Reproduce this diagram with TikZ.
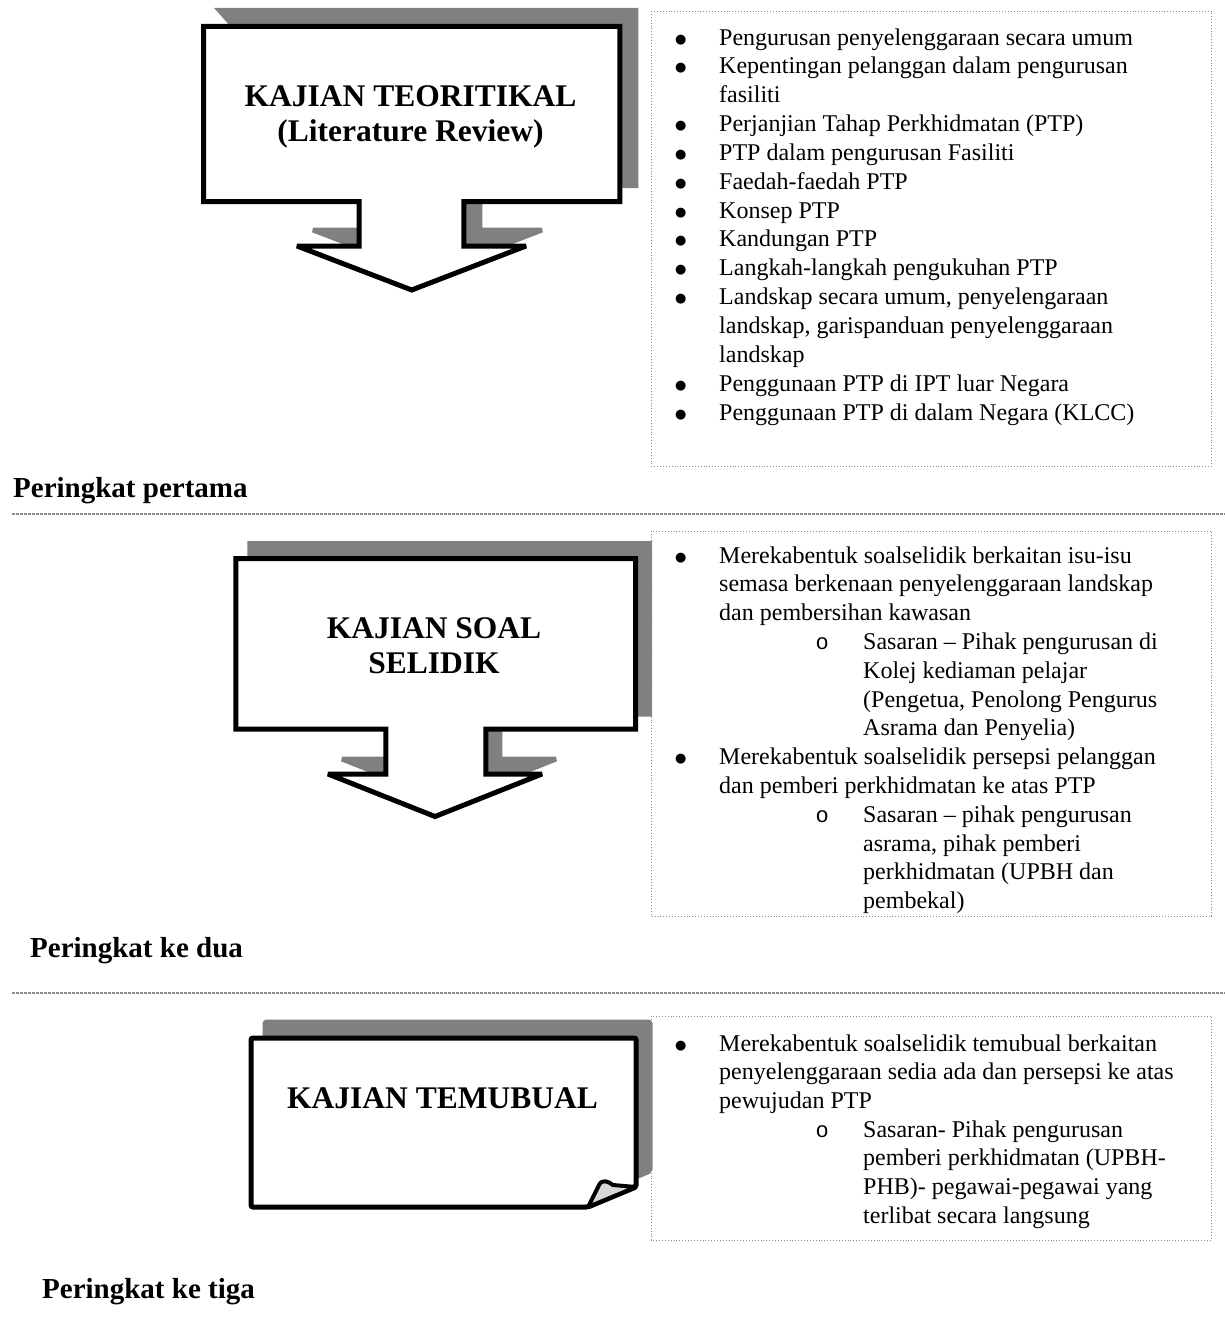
\documentclass[tikz,border=0pt]{standalone}
\usepackage{fontspec}
\setmainfont{Liberation Serif}
\newfontfamily\monofam{Liberation Mono}
\newfontfamily\dvfam{DejaVu Sans}
\definecolor{shadowgray}{RGB}{128,128,128}
\definecolor{framegray}{RGB}{140,140,140}
\definecolor{flapgray}{RGB}{215,215,215}
\newcommand\bulA{\makebox[43pt][l]{\hspace*{-1pt}\raisebox{2pt}{\dvfam\fontsize{13}{13}\selectfont ●}}}
\newcommand\subB{\hspace*{139.4pt}\makebox[47.6pt][l]{\monofam\fontsize{22}{22}\selectfont o}}
\newcommand\contA{\hspace*{43pt}}
\newcommand\contB{\hspace*{187pt}}
\def\calloutOne{(203.5,26.3) -- (619.8,26.3) -- (619.8,201.7) -- (463.8,201.7) -- (463.8,246) -- (526,246) -- (411.7,290) -- (297,246) -- (359,246) -- (359,201.7) -- cycle}
\def\calloutTwo{(235.8,558.7) -- (635.5,558.7) -- (635.5,729) -- (485.8,729) -- (485.8,774) -- (542,774) -- (435,816.5) -- (328,774) -- (385.8,774) -- (385.8,729) -- (235.8,729) -- cycle}
\def\noteThree{(251,1038) -- (636,1038) -- (636,1187) -- (588,1207) -- (251,1207) -- cycle}
\begin{document}
\begin{tikzpicture}[x=1pt,y=-1pt,
  callout/.style={draw=black, line width=5pt, fill=white, line join=miter, miter limit=4},
  shadowfill/.style={fill=shadowgray, draw=shadowgray, line width=5pt, line join=miter, miter limit=4},
  textframe/.style={draw=framegray, line width=0.9pt, dotted},
  sep/.style={draw=framegray, line width=1.3pt, dash pattern=on 2.5pt off 1.5pt},
  titletext/.style={font=\fontsize{31.5}{36}\selectfont\bfseries, anchor=base, inner sep=0},
  stage/.style={font=\fontsize{29}{34}\selectfont\bfseries, anchor=base west, inner sep=0},
  body/.style={anchor=base west, inner sep=0},
]
\useasboundingbox (0,0) rectangle (1225,1320);

% ---------- stage 1 ----------
\path[shadowfill, shift={(16,-16)}] \calloutOne;
\path[callout] (203.5,26.3) -- (619.8,26.3) -- (619.8,201.7) -- (463.8,201.7) -- (463.8,246) -- (526,246) -- (411.7,290) -- (297,246) -- (359,246) -- (359,201.7) -- (203.5,201.7) -- cycle;
\node[titletext] (t1a) at (410.5,106) {KAJIAN TEORITIKAL};
\node[titletext] (t1b) at (410.5,141.7) {(Literature Review)};

\draw[textframe] (651,11) rectangle (1211.5,466);
\node[body] (tx1) at (676,45) {\begin{minipage}[t]{540pt}\fontsize{24}{28.85}\selectfont\setlength{\parindent}{0pt}%
\bulA Pengurusan penyelenggaraan secara umum\\
\bulA Kepentingan pelanggan dalam pengurusan\\
\contA fasiliti\\
\bulA Perjanjian Tahap Perkhidmatan (PTP)\\
\bulA PTP dalam pengurusan Fasiliti\\
\bulA Faedah-faedah PTP\\
\bulA Konsep PTP\\
\bulA Kandungan PTP\\
\bulA Langkah-langkah pengukuhan PTP\\
\bulA Landskap secara umum, penyelengaraan\\
\contA landskap, garispanduan penyelenggaraan\\
\contA landskap\\
\bulA Penggunaan PTP di IPT luar Negara\\
\bulA Penggunaan PTP di dalam Negara (KLCC)
\end{minipage}};

\node[stage] (p1) at (13,497) {Peringkat pertama};
\draw[sep] (12,514) -- (1225,514);

% ---------- stage 2 ----------
\path[shadowfill, shift={(14,-15)}] \calloutTwo;
\path[callout] \calloutTwo;
\node[titletext] (t2a) at (434,638.3) {KAJIAN SOAL};
\node[titletext] (t2b) at (434,673.3) {SELIDIK};

\draw[textframe] (651,531) rectangle (1211.5,916);
\node[body] (tx2) at (676,563) {\begin{minipage}[t]{540pt}\fontsize{24}{28.8}\selectfont\setlength{\parindent}{0pt}%
\bulA Merekabentuk soalselidik berkaitan isu-isu\\
\contA semasa berkenaan penyelenggaraan landskap\\
\contA dan pembersihan kawasan\\
\subB Sasaran – Pihak pengurusan di\\
\contB Kolej kediaman pelajar\\
\contB (Pengetua, Penolong Pengurus\\
\contB Asrama dan Penyelia)\\
\bulA Merekabentuk soalselidik persepsi pelanggan\\
\contA dan pemberi perkhidmatan ke atas PTP\\
\subB Sasaran – pihak pengurusan\\
\contB asrama, pihak pemberi\\
\contB perkhidmatan (UPBH dan\\
\contB pembekal)
\end{minipage}};

\node[stage] (p2) at (30,957) {Peringkat ke dua};
\draw[sep] (12,993) -- (1225,993);

% ---------- stage 3 ----------
\path[shadowfill, shift={(14,-16)}, rounded corners=2pt] \noteThree;
\path[callout, rounded corners=2pt] \noteThree;
\path[draw=black, line width=4pt, fill=flapgray, line join=round] (588,1207) -- (599,1185) .. controls (602,1179) and (608,1181) .. (613,1185) -- (636,1187) -- cycle;
\node[titletext] (t3) at (442.5,1108.3) {KAJIAN TEMUBUAL};

\draw[textframe] (651,1016) rectangle (1211.5,1240);
\node[body] (tx3) at (676,1051) {\begin{minipage}[t]{540pt}\fontsize{24}{28.7}\selectfont\setlength{\parindent}{0pt}%
\bulA Merekabentuk soalselidik temubual berkaitan\\
\contA penyelenggaraan sedia ada dan persepsi ke atas\\
\contA pewujudan PTP\\
\subB Sasaran- Pihak pengurusan\\
\contB pemberi perkhidmatan (UPBH-\\
\contB PHB)- pegawai-pegawai yang\\
\contB terlibat secara langsung
\end{minipage}};

\node[stage] (p3) at (42,1298) {Peringkat ke tiga};
\end{tikzpicture}
\end{document}
